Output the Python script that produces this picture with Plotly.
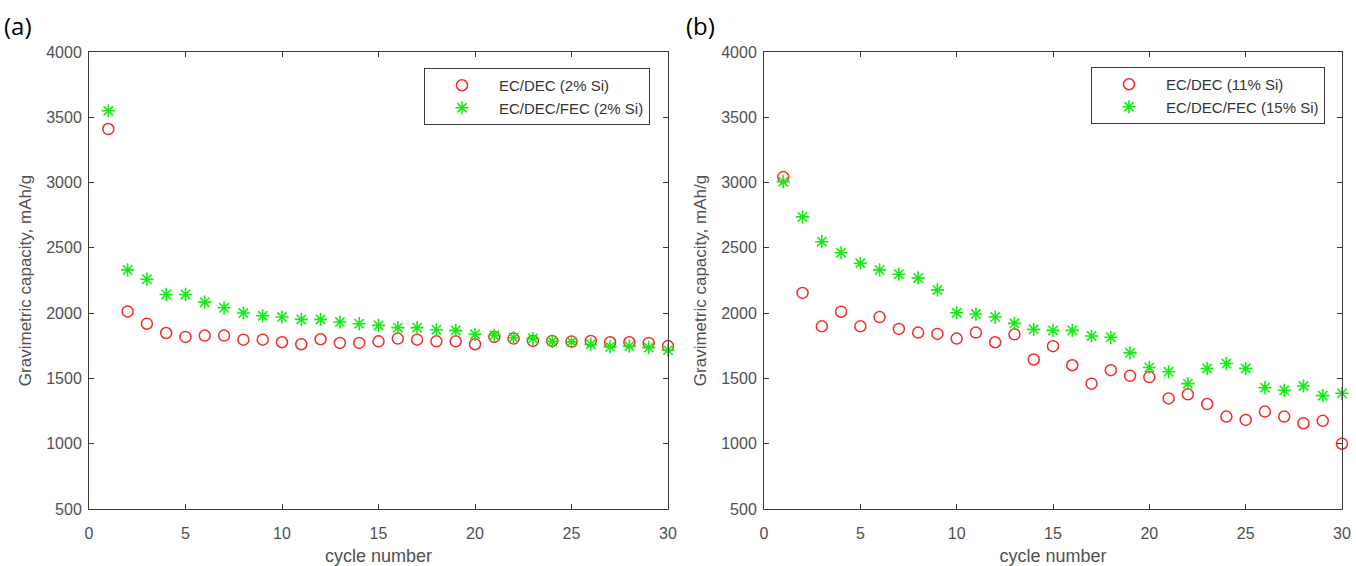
import plotly.graph_objects as go

cycles = list(range(1, 31))

# Panel (a)
a_ecdec = [3410, 2013, 1919, 1848, 1818, 1828, 1828, 1797, 1797, 1777,
           1762, 1800, 1772, 1772, 1784, 1805, 1797, 1784, 1784, 1762,
           1818, 1805, 1787, 1787, 1782, 1787, 1777, 1777, 1772, 1748]
a_fec = [3550, 2331, 2260, 2143, 2143, 2084, 2041, 2001, 1980, 1970,
         1952, 1952, 1932, 1919, 1906, 1889, 1889, 1873, 1868, 1838,
         1830, 1812, 1805, 1784, 1780, 1762, 1742, 1747, 1736, 1716]

# Panel (b)
b_ecdec = [3042, 2155, 1899, 2011, 1899, 1970, 1879, 1851, 1841, 1805,
           1851, 1777, 1838, 1645, 1747, 1601, 1460, 1563, 1520, 1510,
           1347, 1378, 1304, 1208, 1182, 1246, 1208, 1157, 1175, 1000]
b_fec = [3007, 2737, 2547, 2463, 2382, 2331, 2298, 2270, 2178, 2003,
         1993, 1970, 1922, 1876, 1868, 1868, 1825, 1815, 1696, 1584,
         1551, 1460, 1576, 1614, 1576, 1429, 1409, 1442, 1368, 1386]

names_a = ["EC/DEC (2% Si)", "EC/DEC/FEC (2% Si)"]
names_b = ["EC/DEC (11% Si)", "EC/DEC/FEC (15% Si)"]

RED = "#f52a2a"
GREEN = "#12ee12"
AXC = "#3a3a3a"
TXT = "#505050"
FONT = "Liberation Sans, Arial, sans-serif"

fig = go.Figure()

def add(x, y, name, xa, ya, legend, kind):
    if kind == "circle":
        marker = dict(symbol="circle-open", size=11, color=RED, line=dict(width=1.5, color=RED))
    else:
        marker = dict(symbol="asterisk-open", size=11, color=GREEN, line=dict(width=1.6, color=GREEN))
    fig.add_trace(go.Scatter(x=x, y=y, mode="markers", name=name, marker=marker,
                             xaxis=xa, yaxis=ya, legend=legend, cliponaxis=False))

add(cycles, a_ecdec, names_a[0], "x", "y", "legend", "circle")
add(cycles, a_fec, names_a[1], "x", "y", "legend", "star")
add(cycles, b_ecdec, names_b[0], "x2", "y2", "legend2", "circle")
add(cycles, b_fec, names_b[1], "x2", "y2", "legend2", "star")

L, R, T, B = 89, 14, 52, 57
W, H = 1356, 566
pw = W - L - R
ph = H - T - B

def fx(px):
    return (px - L) / pw

def fy(py):
    return (H - B - py) / ph

xax = dict(range=[0, 30], tickmode="array", tickvals=[0, 5, 10, 15, 20, 25, 30],
           ticks="inside", ticklen=5, tickcolor=AXC, showline=True, linecolor=AXC,
           linewidth=1, mirror="ticks", showgrid=False, zeroline=False,
           ticklabelstandoff=10,
           tickfont=dict(family=FONT, size=16, color=TXT),
           title=dict(text="cycle number", font=dict(family=FONT, size=18, color=TXT), standoff=11))
yax = dict(range=[500, 4000], tickmode="array",
           tickvals=[500, 1000, 1500, 2000, 2500, 3000, 3500, 4000],
           ticks="inside", ticklen=5, tickcolor=AXC, showline=True, linecolor=AXC,
           linewidth=1, mirror="ticks", showgrid=False, zeroline=False,
           ticklabelstandoff=3,
           tickfont=dict(family=FONT, size=16, color=TXT),
           title=dict(text="Gravimetric capacity, mAh/g", font=dict(family=FONT, size=17, color=TXT), standoff=10))

leg = dict(bgcolor="white", bordercolor=AXC, borderwidth=1,
           font=dict(family=FONT, size=15, color="#333333"),
           xanchor="right", yanchor="top", itemwidth=64, tracegroupgap=0)

fig.update_layout(
    width=W, height=H,
    margin=dict(l=L, r=R, t=T, b=B, autoexpand=False),
    paper_bgcolor="white", plot_bgcolor="white",
    xaxis=dict(xax, domain=[0, fx(668)], anchor="y"),
    yaxis=dict(yax, domain=[0, 1], anchor="x"),
    xaxis2=dict(xax, domain=[fx(764), 1], anchor="y2"),
    yaxis2=dict(yax, domain=[0, 1], anchor="x2"),
    legend=dict(leg, x=fx(650), y=fy(68)),
    legend2=dict(leg, x=fx(1325), y=fy(67)),
    showlegend=True,
)

fig.add_annotation(text="(a)", xref="paper", yref="paper", x=fx(2), y=fy(25),
                   xanchor="left", yanchor="middle", showarrow=False,
                   font=dict(family="Open Sans, sans-serif", size=24, color="black"))
fig.add_annotation(text="(b)", xref="paper", yref="paper", x=fx(684), y=fy(25),
                   xanchor="left", yanchor="middle", showarrow=False,
                   font=dict(family="Open Sans, sans-serif", size=24, color="black"))

fig.write_html("out.html")
